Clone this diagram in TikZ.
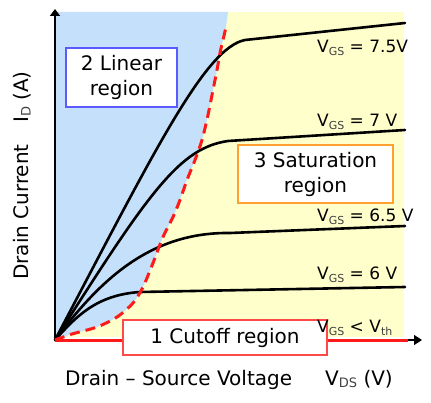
\documentclass[tikz,border=0pt]{standalone}
\usepackage{fontspec}
\setmainfont{DejaVu Sans}
\usetikzlibrary{arrows.meta}
\definecolor{bluefill}{HTML}{C5E0FA}
\definecolor{yelfill}{HTML}{FFFFCC}
\definecolor{blueedge}{HTML}{5A5AFF}
\definecolor{orangeedge}{HTML}{FFA030}
\definecolor{rededge}{HTML}{FF4848}
\definecolor{redline}{HTML}{FF1A1A}
\newcommand{\lowtxt}[2]{\raisebox{-2.5pt}{\fontsize{#1}{#1}\selectfont\color{black!75}#2}}
\begin{document}
\begin{tikzpicture}[x=1pt,y=-1pt,
  regionbox/.style={draw,fill=white,line width=1.2pt,align=center,font=\fontsize{20}{25}\selectfont,inner sep=0pt},
  vlabel/.style={anchor=base west,inner sep=0pt,font=\fontsize{17}{17}\selectfont},
  axlabel/.style={inner sep=0pt,font=\fontsize{20}{20}\selectfont},
  curve/.style={line width=2.6pt,line cap=round},
  axis/.style={line width=1.5pt},
  ]
\useasboundingbox (0,0) rectangle (431,403);
% regions
\fill[yelfill] (55,12) rectangle (404,337);
\fill[bluefill] plot[smooth] coordinates {(55,340) (72,334) (97,327) (117,317) (133,303) (143,287) (153,263) (163,237) (173,217) (180,200) (187,180) (195,160) (202,140) (208,115) (213,90) (217,70) (220,53) (223,40) (226,27)} -- (228,12) -- (55,12) -- cycle;
% named points
\coordinate (O) at (55,340);
\coordinate (ytip) at (55,9);
\coordinate (xtip) at (422,340);
\coordinate (redend) at (408,340);
% axes
\draw[axis,-{Triangle[length=7pt,width=10pt]}] (O) -- (ytip);
\draw[axis,-{Triangle[length=8pt,width=10pt]}] (O) -- (xtip);
\draw[redline,line width=3pt] (O) -- (redend);
% characteristic curves
\draw[curve] (O) .. controls (155,150) and (205,48) .. (245,40) -- (405,23);
\draw[curve] (O) .. controls (150,190) and (180,148) .. (228,141) -- (405,130);
\draw[curve] (O) .. controls (100,280) and (150,232) .. (230,233) -- (405,226);
\draw[curve] (O) .. controls (75,318) and (95,295) .. (140,292) -- (405,287);
% saturation boundary
\draw[redline,line width=3pt,dash pattern=on 10pt off 6pt] plot[smooth] coordinates {(55,340) (72,334) (97,327) (117,317) (133,303) (143,287) (153,263) (163,237) (173,217) (180,200) (187,180) (195,160) (202,140) (208,115) (213,90) (217,70) (220,53) (223,40) (226,27)};
% boxes
\node[regionbox,draw=blueedge,minimum width=111pt,minimum height=59pt] (lin) at (121.5,77.5) {2 Linear\\region};
\node[regionbox,draw=orangeedge,minimum width=155pt,minimum height=58pt] (sat) at (315.5,174) {3 Saturation\\region};
\node[regionbox,draw=rededge,minimum width=204pt,minimum height=35pt] (cut) at (225,337.5) {1 Cutoff region};
% curve labels
\node[vlabel] (l75) at (317,53) {V\lowtxt{11}{GS} = 7.5V};
\node[vlabel] (l7) at (317,127) {V\lowtxt{11}{GS} = 7 V};
\node[vlabel] (l65) at (317,222) {V\lowtxt{11}{GS} = 6.5 V};
\node[vlabel] (l6) at (317,280) {V\lowtxt{11}{GS} = 6 V};
\node[vlabel] (lth) at (317,333) {V\lowtxt{11}{GS} < V\lowtxt{11}{th}};
% axis labels
\node[axlabel,anchor=base west] (xl) at (65,385) {Drain – Source Voltage};
\node[axlabel,anchor=base west] (xu) at (325,385) {V\lowtxt{13}{DS} (V)};
\node[axlabel,rotate=90,anchor=base west] (yl) at (28,280) {Drain Current};
\node[axlabel,rotate=90,anchor=base west] (yu) at (28,123) {I\lowtxt{13}{D} (A)};
\end{tikzpicture}
\end{document}
